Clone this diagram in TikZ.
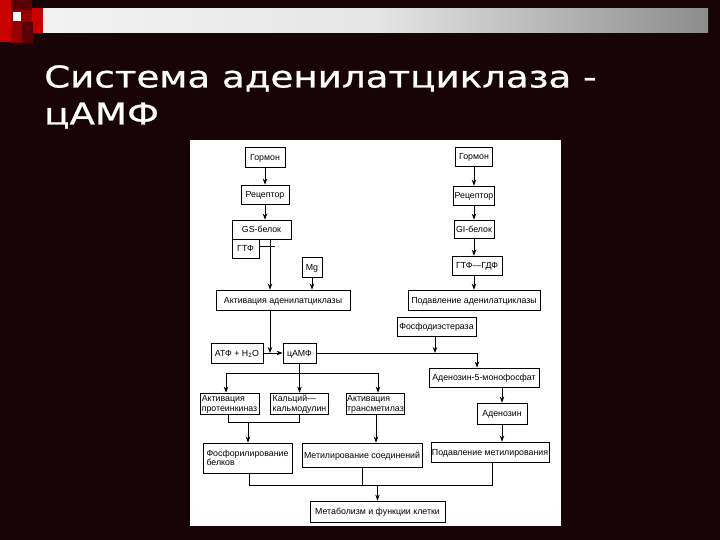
\documentclass[tikz,border=0pt]{standalone}
\usepackage{fontspec}
\setmainfont{Liberation Sans}
\newfontfamily\titlefont[FakeStretch=1.24, FakeBold=0.8]{DejaVu Sans}
\usetikzlibrary{arrows.meta, positioning, calc}
\definecolor{slidebg}{RGB}{24,4,6}
\definecolor{decoA}{RGB}{200,0,0}
\definecolor{decoB}{RGB}{150,0,0}
\definecolor{decoC}{RGB}{90,0,5}
\pgfdeclarehorizontalshading{barshade}{100bp}{color(0bp)=(white); color(50bp)=(white!90!black); color(75bp)=(white!55!black); color(100bp)=(black!85)}

\begin{document}
\begin{tikzpicture}[x=1pt, y=-1pt,
    box/.style={rectangle, draw, fill=white, line width=0.8pt, inner sep=1pt, text depth=0pt, align=center, font=\fontsize{8.8}{9.6}\selectfont},
    lbox/.style={box, align=left},
    boxsize/.style 2 args={minimum width=#1pt, minimum height=#2pt},
    arrow/.style={-{Stealth[length=6pt, width=4.5pt]}, line width=0.8pt},
    link/.style={line width=0.8pt},
]

\fill[slidebg] (0,0) rectangle (720,540);
\useasboundingbox (0,0) rectangle (720,540);

\fill[decoA] (0,0) rectangle (11,42);
\fill[decoC] (11,0) rectangle (32,10);
\fill[decoB] (11,10) rectangle (32,22);
\fill[white] (13,12) rectangle (21,21);
\fill[decoA] (32,8) rectangle (43,33);
\fill[decoC] (22,22) rectangle (33,43);
\fill[decoB] (11,22) rectangle (22,43);
\fill[shading=barshade] (43,9) rectangle (708,33);

\node[anchor=north west, text=white, font=\titlefont\fontsize{30}{37}\selectfont, align=left, inner sep=0pt] (title) at (44,65) {Система аденилатциклаза -\\цАМФ};

\fill[white] (190,140) rectangle (561,526);

\node[box, boxsize={40}{20}] (gormL) at (265,157) {Гормон};
\node[box, boxsize={48}{19}] (recL) at (265,194.5) {Рецептор};
\node[box, boxsize={59}{19}] (gs) at (261.5,229.5) {GS-белок};
\node[box, boxsize={27}{19}] (gtp) at (245.5,248.5) {ГТФ};
\node[box, boxsize={20}{20}] (mg) at (312,267) {Mg};
\node[box, boxsize={134}{20}] (actAC) at (283,300) {Активация аденилатциклазы};

\node[box, boxsize={37}{19}] (gormR) at (474,156.5) {Гормон};
\node[box, boxsize={41}{19}] (recR) at (474,195.5) {Рецептор};
\node[box, boxsize={40}{18}] (gi) at (474,229) {GI-белок};
\node[box, boxsize={50}{19}] (gdp) at (477,265.5) {ГТФ—ГДФ};
\node[box, boxsize={132}{20}] (supAC) at (474,300) {Подавление аденилатциклазы};
\node[box, boxsize={79}{19}] (pde) at (436.5,326.5) {Фосфодиэстераза};

\node[box, boxsize={52}{20}] (atp) at (237,353) {АТФ + H\textsubscript{2}O};
\node[box, boxsize={33}{20}] (camp) at (299.5,353) {цАМФ};
\node[box, boxsize={110}{19}] (amp) at (484,377.5) {Аденозин-5-монофосфат};

\node[lbox, boxsize={59}{21}] (pk) at (229.5,403.5) {Активация\\протеинкиназ};
\node[lbox, boxsize={58}{21}] (cal) at (299.5,403.5) {Кальций—\\кальмодулин};
\node[lbox, boxsize={57}{21}] (tm) at (375.5,403.5) {Активация\\трансметилаз};
\node[box, boxsize={50}{21}] (ado) at (502,413.5) {Аденозин};

\node[lbox, boxsize={89}{30}] (phos) at (247.5,458) {Фосфорилирование\\белков};
\node[box, boxsize={120}{24}] (meth) at (362,455) {Метилирование соединений};
\node[box, boxsize={116}{20}] (supM) at (490,452) {Подавление метилирования};
\node[box, boxsize={135}{21}] (metab) at (377.5,511.5) {Метаболизм и функции клетки};

\coordinate (jA) at (270,353);
\coordinate (jB) at (477,353);
\coordinate (jP) at (435,353);
\coordinate (jCl) at (226,373);
\coordinate (jCr) at (378,373);
\coordinate (jDl) at (228,422);
\coordinate (jD) at (248,422);
\coordinate (jDr) at (299.5,422);
\coordinate (jT) at (376,0);
\coordinate (jEl) at (249,485);
\coordinate (jE) at (377.5,485);
\coordinate (jEr) at (492,485);

\draw[arrow] (gormL) -- (recL);
\draw[arrow] (recL) -- (recL |- gs.north);
\draw[arrow] (gs.south -| jA) -- (actAC.north -| jA);
\draw[link] ($(gtp.east)+(0,-2)$) -- ++(16,0);
\draw[arrow] (mg) -- (mg |- actAC.north);

\draw[arrow] (gormR) -- (recR);
\draw[arrow] (recR) -- (gi);
\draw[arrow] (gi) -- (gi |- gdp.north);
\draw[arrow] (gi |- gdp.south) -- (gi |- supAC.north);

\draw[arrow] (actAC.south -| jA) -- (jA);
\draw[arrow] (atp) -- (camp);
\draw[arrow] (camp.east) -- (jB) -- (jB |- amp.north);
\draw[arrow] (pde.south -| jP) -- (jP);
\draw[arrow] (camp) -- (cal);
\draw[link] (jCl) -- (jCr);
\draw[arrow] (jCl) -- (jCl |- pk.north);
\draw[arrow] (jCr) -- (jCr |- tm.north);
\draw[arrow] (amp.south -| ado) -- (ado);

\draw[link] (pk.south -| jDl) -- (jDl) -- (jDr) -- (cal.south -| jDr);
\draw[arrow] (jD) -- (jD |- phos.north);
\draw[arrow] (tm.south -| jT) -- (meth.north -| jT);
\draw[arrow] (ado) -- (ado |- supM.north);

\draw[link] (phos.south -| jEl) -- (jEl) -- (jEr) -- (supM.south -| jEr);
\draw[link] (meth) -- (meth |- jE);
\draw[arrow] (jE) -- (metab);

\end{tikzpicture}
\end{document}
